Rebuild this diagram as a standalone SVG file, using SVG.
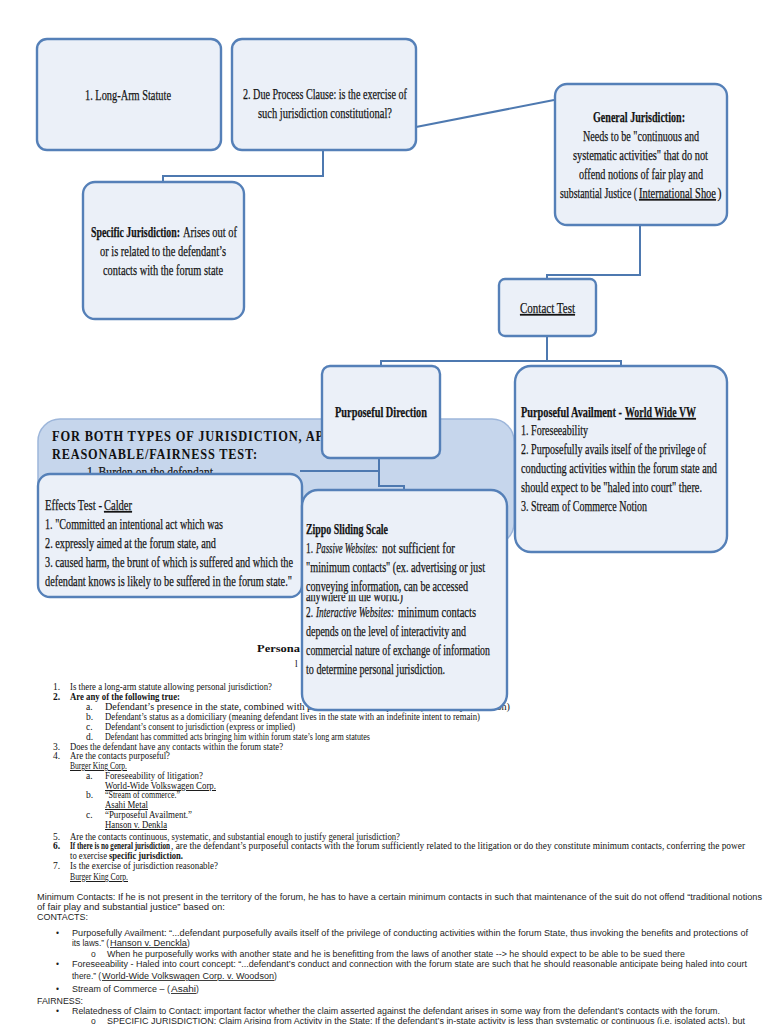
<svg xmlns="http://www.w3.org/2000/svg" width="768" height="1024" viewBox="0 0 768 1024">
<style>
.box{fill:#ebf0f8;stroke:#5580b8;stroke-width:2.4}
.bg{fill:#c6d6ec;stroke:#9db6da;stroke-width:1.5}
.conn{stroke:#4e79b0;stroke-width:2;fill:none}
.t{font-family:"Liberation Serif",serif;font-size:15.5px;fill:#141414;stroke:#141414;stroke-width:0.25}
.hd{font-family:"Liberation Serif",serif;font-size:15px;font-weight:bold;fill:#111;letter-spacing:1px}
.d{font-family:"Liberation Serif",serif;font-size:9.5px;fill:#111}
.s{font-family:"Liberation Sans",sans-serif;font-size:8.5px;fill:#1e1e1e}
.u{text-decoration:underline}
.b{font-weight:bold}
.i{font-style:italic}
</style>
<defs>
<clipPath id="clipAny"><rect x="300" y="595" width="210" height="20"/></clipPath>
</defs>
<rect width="768" height="1024" fill="#ffffff"/>

<g id="fairness-bg">
<rect class="bg" x="38" y="419" width="476" height="126" rx="22"/>
<text class="hd" x="52" y="441" textLength="272" lengthAdjust="spacingAndGlyphs">FOR BOTH TYPES OF JURISDICTION, AP</text>
<text class="hd" x="52" y="459" textLength="206" lengthAdjust="spacingAndGlyphs">REASONABLE/FAIRNESS TEST:</text>
<text class="t" x="87" y="477" font-size="14" textLength="126" lengthAdjust="spacingAndGlyphs">1. Burden on the defendant</text>
</g>

<g id="connectors">
<path class="conn" d="M323,150 V176 H163 V181"/>
<path class="conn" d="M416,127 L554,100"/>
<path class="conn" d="M640,225 V275 H547 V279"/>
<path class="conn" d="M547,336 V361 H381 V366"/>
<path class="conn" d="M547,361 H621 V366"/>
<path class="conn" d="M379,458 V471 H300"/>
<path class="conn" d="M379,471 V486 H404 V490"/>
</g>

<g id="long-arm">
<rect class="box" x="37" y="39" width="184" height="111" rx="10"/>
<text class="t" x="85" y="100" textLength="86" lengthAdjust="spacingAndGlyphs">1. Long-Arm Statute</text>
</g>

<g id="due-process">
<rect class="box" x="232" y="39" width="184" height="111" rx="10"/>
<text class="t" x="243" y="99" textLength="164" lengthAdjust="spacingAndGlyphs">2.  Due Process Clause: is the exercise of</text>
<text class="t" x="258" y="118" textLength="134" lengthAdjust="spacingAndGlyphs">such jurisdiction constitutional?</text>
</g>

<g id="general">
<rect class="box" x="555" y="84" width="172" height="141" rx="12"/>
<text class="t b" x="593" y="122" textLength="92" lengthAdjust="spacingAndGlyphs">General Jurisdiction:</text>
<text class="t" x="583" y="141" textLength="116" lengthAdjust="spacingAndGlyphs">Needs to be "continuous and</text>
<text class="t" x="573" y="160" textLength="135" lengthAdjust="spacingAndGlyphs">systematic activities" that do not</text>
<text class="t" x="579" y="179" textLength="124" lengthAdjust="spacingAndGlyphs">offend notions of fair play and</text>
<text class="t" x="560" y="198" textLength="77" lengthAdjust="spacingAndGlyphs">substantial Justice (</text>
<text class="t u" x="639" y="198" textLength="77" lengthAdjust="spacingAndGlyphs">International Shoe</text>
<text class="t" x="717.5" y="198" textLength="4" lengthAdjust="spacingAndGlyphs">)</text>
</g>

<g id="specific">
<rect class="box" x="83" y="182" width="161" height="137" rx="12"/>
<text class="t b" x="91" y="237" textLength="89" lengthAdjust="spacingAndGlyphs">Specific Jurisdiction:</text>
<text class="t" x="183" y="237" textLength="54" lengthAdjust="spacingAndGlyphs">Arises out of</text>
<text class="t" x="100" y="256" textLength="126" lengthAdjust="spacingAndGlyphs">or is related to the defendant’s</text>
<text class="t" x="103" y="275" textLength="120" lengthAdjust="spacingAndGlyphs">contacts with the forum state</text>
</g>

<g id="contact-test">
<rect class="box" x="499" y="279" width="97" height="57" rx="6"/>
<text class="t u" x="520" y="313" textLength="55" lengthAdjust="spacingAndGlyphs">Contact Test</text>
</g>

<g id="purposeful-direction">
<rect class="box" x="322" y="366" width="118" height="92" rx="8"/>
<text class="t b" x="335" y="417" textLength="92" lengthAdjust="spacingAndGlyphs">Purposeful Direction</text>
</g>

<g id="effects-test">
<rect class="box" x="38" y="474" width="264" height="123" rx="12"/>
<text class="t" x="45" y="510" textLength="57" lengthAdjust="spacingAndGlyphs">Effects Test -</text>
<text class="t u" x="104" y="510" textLength="28" lengthAdjust="spacingAndGlyphs">Calder</text>
<text class="t" x="45" y="529" textLength="178" lengthAdjust="spacingAndGlyphs">1. "Committed an intentional act which was</text>
<text class="t" x="45" y="548" textLength="171" lengthAdjust="spacingAndGlyphs">2. expressly aimed at the forum state, and</text>
<text class="t" x="45" y="567" textLength="248" lengthAdjust="spacingAndGlyphs">3. caused harm, the brunt of which is suffered and which the</text>
<text class="t" x="45" y="586" textLength="247" lengthAdjust="spacingAndGlyphs">defendant knows is likely to be suffered in the forum state."</text>
</g>

<g id="document-text">
<text class="d b" x="257" y="652" font-size="11" textLength="43" lengthAdjust="spacingAndGlyphs">Persona</text>
<text class="d" x="295" y="667" font-size="11">l</text>
<text class="d" x="53" y="690">1.</text>
<text class="d" x="70" y="690" textLength="202" lengthAdjust="spacingAndGlyphs">Is there a long-arm statute allowing personal jurisdiction?</text>
<text class="d b" x="53" y="700">2.</text>
<text class="d b" x="70" y="700" textLength="110" lengthAdjust="spacingAndGlyphs">Are any of the following true:</text>
<text class="d" x="86" y="710">a.</text>
<text class="d" x="105" y="710" textLength="405" lengthAdjust="spacingAndGlyphs">Defendant’s presence in the state, combined with personal service of process (transient jurisdiction)</text>
<text class="d" x="86" y="720">b.</text>
<text class="d" x="105" y="720" textLength="375" lengthAdjust="spacingAndGlyphs">Defendant’s status as a domiciliary (meaning defendant lives in the state with an indefinite intent to remain)</text>
<text class="d" x="86" y="730">c.</text>
<text class="d" x="105" y="730" textLength="190" lengthAdjust="spacingAndGlyphs">Defendant’s consent to jurisdiction (express or implied)</text>
<text class="d" x="86" y="740">d.</text>
<text class="d" x="105" y="740" textLength="265" lengthAdjust="spacingAndGlyphs">Defendant has committed acts bringing him within forum state’s long arm statutes</text>
<text class="d" x="53" y="750">3.</text>
<text class="d" x="70" y="750" textLength="213" lengthAdjust="spacingAndGlyphs">Does the defendant have any contacts within the forum state?</text>
<text class="d" x="53" y="759">4.</text>
<text class="d" x="70" y="759" textLength="100" lengthAdjust="spacingAndGlyphs">Are the contacts purposeful?</text>
<text class="d u" x="70" y="769" textLength="57" lengthAdjust="spacingAndGlyphs">Burger King Corp.</text>
<text class="d" x="86" y="779">a.</text>
<text class="d" x="105" y="779" textLength="98" lengthAdjust="spacingAndGlyphs">Foreseeability of litigation?</text>
<text class="d u" x="105" y="789" textLength="111" lengthAdjust="spacingAndGlyphs">World-Wide Volkswagen Corp.</text>
<text class="d" x="86" y="798">b.</text>
<text class="d" x="105" y="798" textLength="75" lengthAdjust="spacingAndGlyphs">“Stream of commerce.”</text>
<text class="d u" x="105" y="808" textLength="43" lengthAdjust="spacingAndGlyphs">Asahi Metal</text>
<text class="d" x="86" y="818">c.</text>
<text class="d" x="105" y="818" textLength="87" lengthAdjust="spacingAndGlyphs">“Purposeful Availment.”</text>
<text class="d u" x="105" y="828" textLength="62" lengthAdjust="spacingAndGlyphs">Hanson v. Denkla</text>
<text class="d" x="53" y="840">5.</text>
<text class="d" x="70" y="840" textLength="330" lengthAdjust="spacingAndGlyphs">Are the contacts continuous, systematic, and substantial enough to justify general jurisdiction?</text>
<text class="d b" x="53" y="849">6.</text>
<text class="d b" x="70" y="849" textLength="100" lengthAdjust="spacingAndGlyphs">If there is no general jurisdiction</text>
<text class="d" x="171" y="849" textLength="574" lengthAdjust="spacingAndGlyphs">, are the defendant’s purposeful contacts with the forum sufficiently related to the litigation or do they constitute minimum contacts, conferring the power</text>
<text class="d" x="70" y="859" textLength="37" lengthAdjust="spacingAndGlyphs">to exercise</text>
<text class="d b" x="109" y="859" textLength="74" lengthAdjust="spacingAndGlyphs">specific jurisdiction.</text>
<text class="d" x="53" y="869">7.</text>
<text class="d" x="70" y="869" textLength="148" lengthAdjust="spacingAndGlyphs">Is the exercise of jurisdiction reasonable?</text>
<text class="d u" x="70" y="880" textLength="58" lengthAdjust="spacingAndGlyphs">Burger King Corp.</text>

<text class="s" x="37" y="900" textLength="725" lengthAdjust="spacingAndGlyphs">Minimum Contacts: If he is not present in the territory of the forum, he has to have a certain minimum contacts in such that maintenance of the suit do not offend “traditional notions</text>
<text class="s" x="37" y="910" textLength="188" lengthAdjust="spacingAndGlyphs">of fair play and substantial justice” based on:</text>
<text class="s" x="37" y="920" textLength="51" lengthAdjust="spacingAndGlyphs">CONTACTS:</text>
<text class="s" x="56" y="936">•</text>
<text class="s" x="72" y="936" textLength="676" lengthAdjust="spacingAndGlyphs">Purposefully Availment: “...defendant purposefully avails itself of the privilege of conducting activities within the forum State, thus invoking the benefits and protections of</text>
<text class="s" x="72" y="946" textLength="37" lengthAdjust="spacingAndGlyphs">its laws.” (</text>
<text class="s u" x="110" y="946" textLength="77" lengthAdjust="spacingAndGlyphs">Hanson v. Denckla</text>
<text class="s" x="187" y="946">)</text>
<text class="s" x="91" y="957">o</text>
<text class="s" x="107" y="957" textLength="578" lengthAdjust="spacingAndGlyphs">When he purposefully works with another state and he is benefitting from the laws of another state --&gt; he should expect to be able to be sued there</text>
<text class="s" x="56" y="967">•</text>
<text class="s" x="72" y="967" textLength="675" lengthAdjust="spacingAndGlyphs">Foreseeability - Haled into court concept: “...defendant’s conduct and connection with the forum state are such that he should reasonable anticipate being haled into court</text>
<text class="s" x="72" y="979" textLength="29" lengthAdjust="spacingAndGlyphs">there.” (</text>
<text class="s u" x="102" y="979" textLength="172" lengthAdjust="spacingAndGlyphs">World-Wide Volkswagen Corp. v. Woodson</text>
<text class="s" x="274" y="979">)</text>
<text class="s" x="56" y="992">•</text>
<text class="s" x="72" y="992" textLength="98" lengthAdjust="spacingAndGlyphs">Stream of Commerce – (</text>
<text class="s u" x="171" y="992" textLength="25" lengthAdjust="spacingAndGlyphs">Asahi</text>
<text class="s" x="196" y="992">)</text>
<text class="s" x="37" y="1004" textLength="46" lengthAdjust="spacingAndGlyphs">FAIRNESS:</text>
<text class="s" x="56" y="1014">•</text>
<text class="s" x="72" y="1014" textLength="648" lengthAdjust="spacingAndGlyphs">Relatedness of Claim to Contact: important factor whether the claim asserted against the defendant arises in some way from the defendant’s contacts with the forum.</text>
<text class="s" x="91" y="1024">o</text>
<text class="s" x="107" y="1024" textLength="638" lengthAdjust="spacingAndGlyphs">SPECIFIC JURISDICTION: Claim Arising from Activity in the State: If the defendant’s in-state activity is less than systematic or continuous (i.e. isolated acts), but</text>
</g>

<g id="zippo">
<rect class="box" x="302" y="490" width="205" height="220" rx="16"/>
<text class="t b" x="306" y="534" textLength="82" lengthAdjust="spacingAndGlyphs">Zippo Sliding Scale</text>
<text class="t" x="306" y="553" textLength="7" lengthAdjust="spacingAndGlyphs">1.</text>
<text class="t i" x="316" y="553" textLength="62" lengthAdjust="spacingAndGlyphs">Passive Websites:</text>
<text class="t" x="382" y="553" textLength="73" lengthAdjust="spacingAndGlyphs">not sufficient for</text>
<text class="t" x="306" y="572" textLength="179" lengthAdjust="spacingAndGlyphs">"minimum contacts" (ex. advertising or just</text>
<text class="t" x="306" y="601" textLength="97" lengthAdjust="spacingAndGlyphs" clip-path="url(#clipAny)">anywhere in the world.)</text>
<text class="t" x="306" y="591" textLength="162" lengthAdjust="spacingAndGlyphs">conveying information, can be accessed</text>
<text class="t" x="306" y="617" textLength="7" lengthAdjust="spacingAndGlyphs">2.</text>
<text class="t i" x="316" y="617" textLength="78" lengthAdjust="spacingAndGlyphs">Interactive Websites:</text>
<text class="t" x="398" y="617" textLength="78" lengthAdjust="spacingAndGlyphs">minimum contacts</text>
<text class="t" x="306" y="636" textLength="160" lengthAdjust="spacingAndGlyphs">depends on the level of interactivity and</text>
<text class="t" x="306" y="655" textLength="184" lengthAdjust="spacingAndGlyphs">commercial nature of exchange of information</text>
<text class="t" x="306" y="674" textLength="139" lengthAdjust="spacingAndGlyphs">to determine personal jurisdiction.</text>
</g>

<g id="purposeful-availment">
<rect class="box" x="515" y="366" width="212" height="186" rx="16"/>
<text class="t b" x="521" y="417" textLength="101" lengthAdjust="spacingAndGlyphs">Purposeful Availment -</text>
<text class="t b u" x="625" y="417" textLength="71" lengthAdjust="spacingAndGlyphs">World Wide VW</text>
<text class="t" x="521" y="435" textLength="67" lengthAdjust="spacingAndGlyphs">1. Foreseeability</text>
<text class="t" x="521" y="454" textLength="185" lengthAdjust="spacingAndGlyphs">2. Purposefully avails itself of the privilege of</text>
<text class="t" x="521" y="473" textLength="196" lengthAdjust="spacingAndGlyphs">conducting activities within the forum state and</text>
<text class="t" x="521" y="492" textLength="181" lengthAdjust="spacingAndGlyphs">should expect to be "haled into court" there.</text>
<text class="t" x="521" y="511" textLength="126" lengthAdjust="spacingAndGlyphs">3. Stream of Commerce Notion</text>
</g>
</svg>
